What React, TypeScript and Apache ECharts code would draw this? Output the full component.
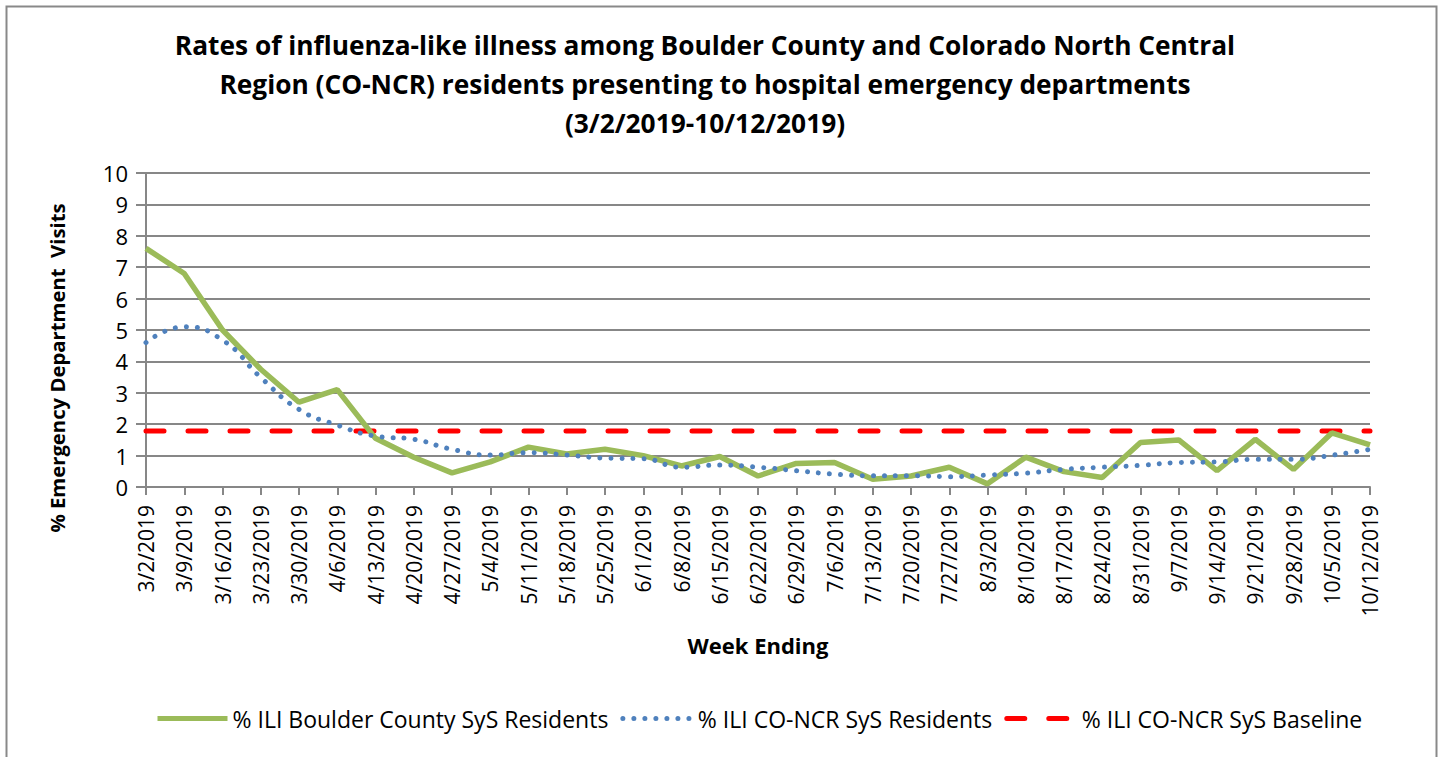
import React, { useEffect, useRef } from "react";
import * as echarts from "echarts";

const weeks: string[] = [
  "3/2/2019", "3/9/2019", "3/16/2019", "3/23/2019", "3/30/2019", "4/6/2019",
  "4/13/2019", "4/20/2019", "4/27/2019", "5/4/2019", "5/11/2019", "5/18/2019",
  "5/25/2019", "6/1/2019", "6/8/2019", "6/15/2019", "6/22/2019", "6/29/2019",
  "7/6/2019", "7/13/2019", "7/20/2019", "7/27/2019", "8/3/2019", "8/10/2019",
  "8/17/2019", "8/24/2019", "8/31/2019", "9/7/2019", "9/14/2019", "9/21/2019",
  "9/28/2019", "10/5/2019", "10/12/2019",
];

const boulder: number[] = [
  7.6, 6.8, 5.0, 3.75, 2.7, 3.1, 1.55, 0.95, 0.45, 0.8, 1.27, 1.05,
  1.2, 1.0, 0.67, 0.97, 0.35, 0.75, 0.78, 0.25, 0.35, 0.63, 0.1, 0.95,
  0.49, 0.3, 1.42, 1.5, 0.52, 1.52, 0.56, 1.72, 1.34,
];

const coNcr: number[] = [
  4.6, 5.1, 4.68, 3.49, 2.47, 1.97, 1.62, 1.52, 1.2, 1.02, 1.09, 1.02,
  0.92, 0.9, 0.63, 0.7, 0.63, 0.52, 0.41, 0.36, 0.36, 0.33, 0.38, 0.44,
  0.56, 0.63, 0.69, 0.78, 0.8, 0.88, 0.88, 1.01, 1.2,
];

const baselineValue = 1.78;
const baseline: number[] = weeks.map(() => baselineValue);

const yTicks = { min: 0, max: 10, interval: 1 };

const seriesNames = [
  "% ILI Boulder County SyS Residents",
  "% ILI CO-NCR SyS Residents",
  "% ILI CO-NCR SyS Baseline",
];

const titleText =
  "Rates of influenza-like illness among Boulder County and Colorado North Central\nRegion (CO-NCR) residents presenting to hospital emergency departments\n(3/2/2019-10/12/2019)";

const FONT = "'Open Sans', 'Noto Sans', sans-serif";

export default function App() {
  const ref = useRef<HTMLDivElement>(null);

  useEffect(() => {
    if (!ref.current) return;
    const chart = echarts.init(ref.current, null, { renderer: "svg" });
    const gridColor = "#878787";
    chart.setOption({
      animation: false,
      backgroundColor: "#ffffff",
      title: {
        text: titleText,
        left: 700,
        top: 20,
        textAlign: "center",
        textStyle: {
          fontFamily: FONT,
          fontWeight: "bold",
          fontSize: 26.3,
          lineHeight: 39,
          color: "#000",
        },
      },
      legend: {
        bottom: 22,
        left: 150,
        itemWidth: 70,
        itemHeight: 14,
        itemGap: 12,
        itemStyle: { opacity: 0 },
        lineStyle: { width: 5 },
        textStyle: { fontFamily: FONT, fontSize: 23, color: "#000" },
        data: seriesNames,
      },
      grid: { left: 146, right: 70, top: 173, bottom: 270, containLabel: false },
      xAxis: {
        type: "category",
        data: weeks,
        boundaryGap: false,
        axisLine: { show: true, lineStyle: { color: gridColor, width: 2 } },
        axisTick: { show: true, alignWithLabel: true, length: 8, lineStyle: { color: gridColor, width: 2 } },
        axisLabel: {
          rotate: 90,
          interval: 0,
          margin: 18,
          fontFamily: FONT,
          fontSize: 21,
          color: "#000",
        },
        splitLine: { show: false },
      },
      yAxis: {
        type: "value",
        min: yTicks.min,
        max: yTicks.max,
        interval: yTicks.interval,
        axisLine: { show: true, lineStyle: { color: gridColor, width: 2 } },
        axisTick: { show: true, length: 10, lineStyle: { color: gridColor, width: 2 } },
        axisLabel: { margin: 18, fontFamily: FONT, fontSize: 22, color: "#000" },
        splitLine: { show: true, lineStyle: { color: gridColor, width: 2 } },
      },
      graphic: [
        {
          type: "rect",
          left: 4,
          top: 4,
          shape: { x: 0, y: 0, width: 1430, height: 770 },
          style: { fill: "none", stroke: "#898989", lineWidth: 2 },
          z: -1,
        },
        {
          type: "text",
          x: 57,
          y: 368,
          rotation: Math.PI / 2,
          style: {
            text: "% Emergency Department  Visits",
            fontFamily: FONT,
            fontWeight: "bold",
            fontSize: 20.3,
            fill: "#000",
            align: "center",
            verticalAlign: "middle",
          },
        },
        {
          type: "text",
          x: 758,
          y: 645,
          style: {
            text: "Week Ending",
            fontFamily: FONT,
            fontWeight: "bold",
            fontSize: 22,
            fill: "#000",
            align: "center",
            verticalAlign: "middle",
          },
        },
      ],
      series: [
        {
          name: seriesNames[0],
          type: "line",
          data: boulder,
          symbol: "none",
          z: 3,
          lineStyle: { color: "#9BBB59", width: 5.5 },
          itemStyle: { color: "#9BBB59" },
        },
        {
          name: seriesNames[1],
          type: "line",
          data: coNcr,
          symbol: "none",
          smooth: 0.5,
          z: 4,
          lineStyle: { color: "#4F81BD", width: 5, type: [0.01, 11], cap: "round" },
          itemStyle: { color: "#4F81BD" },
        },
        {
          name: seriesNames[2],
          type: "line",
          data: baseline,
          symbol: "none",
          z: 2,
          lineStyle: { color: "#FF0000", width: 5, type: [18, 24], cap: "round" },
          itemStyle: { color: "#FF0000" },
        },
      ],
    });
    return () => chart.dispose();
  }, []);

  return (
    <div
      ref={ref}
      style={{ position: "fixed", left: 0, top: 0, width: 1440, height: 757 }}
    />
  );
}
